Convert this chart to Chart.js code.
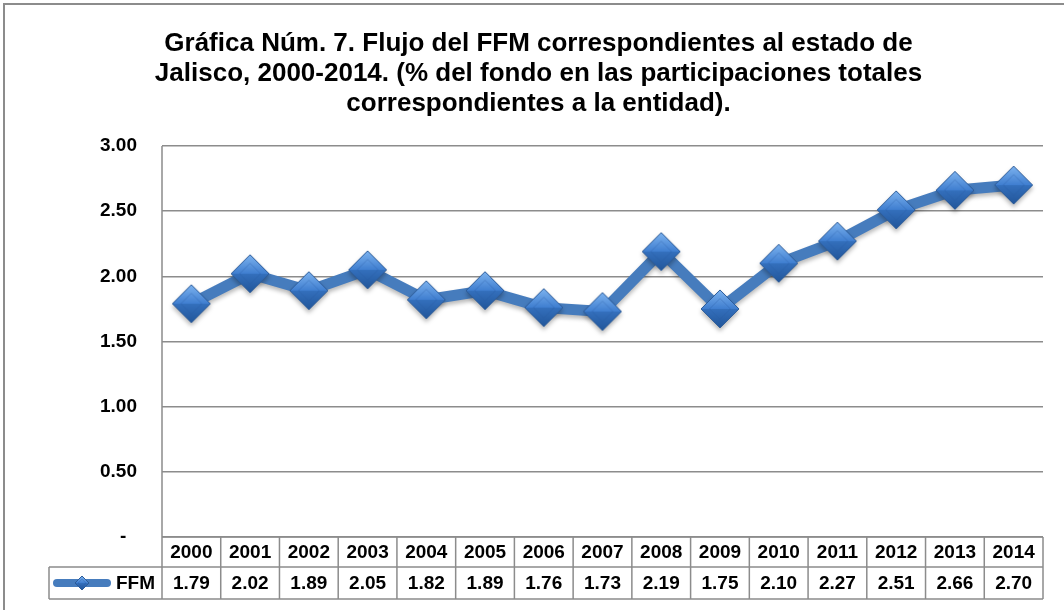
<!doctype html>
<html>
<head>
<meta charset="UTF-8">
<title>Flujo del FFM - Jalisco</title>
<script src="https://cdn.jsdelivr.net/npm/chart.js@4.4.0/dist/chart.umd.min.js"></script>
<style>
  html, body { margin: 0; padding: 0; background: #fff; }
  #wrap { width: 1064px; height: 610px; position: relative; }
</style>
</head>
<body>
<div id="wrap"><canvas id="canvas" width="1064" height="610"></canvas></div>
<script>
// datos
var anios = ['2000','2001','2002','2003','2004','2005','2006','2007','2008','2009','2010','2011','2012','2013','2014'];
var ffm = [1.79, 2.02, 1.89, 2.05, 1.82, 1.89, 1.76, 1.73, 2.19, 1.75, 2.10, 2.27, 2.51, 2.66, 2.70];
var serieNombre = 'FFM';
var titulo = [
  'Gráfica Núm. 7. Flujo del FFM correspondientes al estado de',
  'Jalisco, 2000-2014. (% del fondo en las participaciones totales',
  'correspondientes a la entidad).'
];

var fuente = '"Liberation Sans", Arial, sans-serif';
var azulLinea = '#467cbd';
var gris = '#8c8c8c';

// marcador tipo diamante con sombreado
function diamante(r) {
  var s = r * 2 + 2;
  var c = document.createElement('canvas');
  c.width = s; c.height = s;
  var g = c.getContext('2d');
  var m = s / 2;
  // mitad superior
  var g1 = g.createLinearGradient(0, m - r, 0, m);
  g1.addColorStop(0, '#7db3ef');
  g1.addColorStop(1, '#3f7ed0');
  g.beginPath();
  g.moveTo(m - r, m); g.lineTo(m, m - r); g.lineTo(m + r, m); g.closePath();
  g.fillStyle = g1; g.fill();
  // mitad inferior
  var g2 = g.createLinearGradient(0, m, 0, m + r);
  g2.addColorStop(0, '#3470bd');
  g2.addColorStop(1, '#22569a');
  g.beginPath();
  g.moveTo(m - r, m); g.lineTo(m, m + r); g.lineTo(m + r, m); g.closePath();
  g.fillStyle = g2; g.fill();
  // bisel interior
  var ri = r * 0.55;
  g.beginPath();
  g.moveTo(m - ri, m); g.lineTo(m, m - ri); g.lineTo(m + ri, m); g.lineTo(m, m + ri); g.closePath();
  g.strokeStyle = 'rgba(40,90,160,0.35)'; g.lineWidth = 1; g.stroke();
  // contorno
  g.beginPath();
  g.moveTo(m - r, m); g.lineTo(m, m - r); g.lineTo(m + r, m); g.lineTo(m, m + r); g.closePath();
  g.strokeStyle = '#2c5b98'; g.lineWidth = 1; g.stroke();
  return c;
}
var marcador = diamante(19);
var marcadorChico = diamante(7);

// marco exterior
var marco = {
  id: 'marco',
  beforeDraw: function(chart) {
    var ctx = chart.ctx;
    ctx.save();
    ctx.fillStyle = '#fff';
    ctx.fillRect(0, 0, chart.width, chart.height);
    ctx.strokeStyle = gris;
    ctx.lineWidth = 2;
    ctx.strokeRect(4, 4, chart.width + 20, chart.height + 20);
    ctx.restore();
  }
};

// sombra de la serie
var sombra = {
  id: 'sombra',
  beforeDatasetsDraw: function(chart) {
    var ctx = chart.ctx;
    ctx.save();
    ctx.shadowColor = 'rgba(0,0,0,0.28)';
    ctx.shadowBlur = 4;
    ctx.shadowOffsetY = 3;
  },
  afterDatasetsDraw: function(chart) {
    chart.ctx.restore();
  }
};

// tabla de datos debajo del eje
var tabla = {
  id: 'tabla',
  afterDraw: function(chart) {
    var ctx = chart.ctx;
    var a = chart.chartArea;
    var x = chart.scales.x;
    var n = anios.length;
    var ancho = (a.right - a.left) / n;
    var y0 = a.bottom, y1 = a.bottom + 30, y2 = a.bottom + 62;
    var xLeyenda = 49;

    ctx.save();
    ctx.strokeStyle = gris;
    ctx.lineWidth = 1.5;
    ctx.beginPath();
    // eje vertical hasta el fin de la fila de encabezado
    ctx.moveTo(a.left, a.top); ctx.lineTo(a.left, y2);
    ctx.moveTo(a.left, y0); ctx.lineTo(a.right, y0);
    ctx.moveTo(a.left, y1); ctx.lineTo(a.right, y1);
    ctx.moveTo(xLeyenda, y2); ctx.lineTo(a.right, y2);
    ctx.moveTo(xLeyenda, y1); ctx.lineTo(a.left, y1);
    ctx.moveTo(xLeyenda, y1); ctx.lineTo(xLeyenda, y2);
    for (var i = 1; i <= n; i++) {
      var xb = a.left + ancho * i;
      ctx.moveTo(xb, y0); ctx.lineTo(xb, y2);
    }
    ctx.stroke();

    ctx.fillStyle = '#000';
    ctx.font = 'bold 19px ' + fuente;
    ctx.textAlign = 'center';
    ctx.textBaseline = 'middle';
    for (var j = 0; j < n; j++) {
      var xc = x.getPixelForValue(j);
      ctx.fillText(anios[j], xc, (y0 + y1) / 2 + 1);
      ctx.fillText(ffm[j].toFixed(2), xc, (y1 + y2) / 2 + 1);
    }

    // leyenda dentro de la tabla
    var yl = (y1 + y2) / 2;
    ctx.strokeStyle = azulLinea;
    ctx.lineWidth = 8;
    ctx.lineCap = 'round';
    ctx.beginPath();
    ctx.moveTo(57, yl); ctx.lineTo(107, yl);
    ctx.stroke();
    ctx.drawImage(marcadorChico, 82 - marcadorChico.width / 2, yl - marcadorChico.height / 2);
    ctx.textAlign = 'right';
    ctx.fillText(serieNombre, 155, yl + 1);
    ctx.restore();
  }
};

var ctx = document.getElementById('canvas').getContext('2d');
window.myLine = new Chart(ctx, {
  type: 'line',
  data: {
    labels: anios,
    datasets: [{
      label: serieNombre,
      data: ffm,
      borderColor: azulLinea,
      borderWidth: 11,
      borderJoinStyle: 'round',
      tension: 0,
      pointStyle: marcador,
      pointRadius: 19,
      pointHoverRadius: 19
    }]
  },
  options: {
    responsive: false,
    animation: false,
    events: [],
    layout: { autoPadding: false, padding: { top: 0, left: 34, right: 21, bottom: 73 } },
    plugins: {
      legend: { display: false },
      tooltip: { enabled: false },
      title: {
        display: true,
        text: titulo,
        color: '#000',
        font: { family: fuente, size: 26, weight: 'bold', lineHeight: 30 / 26 },
        padding: { top: 29, bottom: 27 }
      }
    },
    scales: {
      x: {
        type: 'category',
        offset: true,
        display: false
      },
      y: {
        min: 0,
        max: 3,
        afterFit: function(s) { s.width = 128; },
        border: { display: false },
        grid: { color: gris, lineWidth: 1.5, drawTicks: false },
        ticks: {
          stepSize: 0.5,
          padding: 25,
          color: '#000',
          font: { family: fuente, size: 19, weight: 'bold' },
          callback: function(v) { return v === 0 ? '-  ' : v.toFixed(2); }
        }
      }
    }
  },
  plugins: [marco, sombra, tabla]
});
</script>
</body>
</html>
